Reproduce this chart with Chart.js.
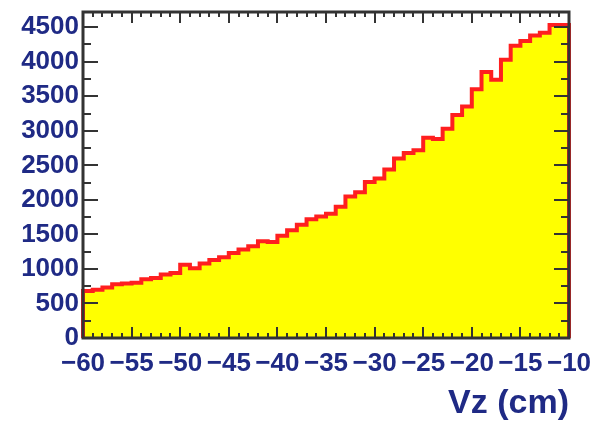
<!DOCTYPE html>
<html>
<head>
<meta charset="utf-8">
<script src="https://cdn.jsdelivr.net/npm/chart.js@4.4.1/dist/chart.umd.min.js"></script>
<style>
  html, body { margin: 0; padding: 0; background: #ffffff; }
  #wrap { width: 593px; height: 421px; position: relative; }
</style>
</head>
<body>
<div id="wrap"><canvas id="c" width="593" height="421"></canvas></div>
<script>
// Vertex z distribution, 1 cm bins (lower bin edge in cm)
const vzBinStart = [-60, -59, -58, -57, -56, -55, -54, -53, -52, -51,
                    -50, -49, -48, -47, -46, -45, -44, -43, -42, -41,
                    -40, -39, -38, -37, -36, -35, -34, -33, -32, -31,
                    -30, -29, -28, -27, -26, -25, -24, -23, -22, -21,
                    -20, -19, -18, -17, -16, -15, -14, -13, -12, -11];
const counts = [650, 680, 700, 730, 780, 790, 800, 850, 870, 920,
                940, 1060, 1010, 1080, 1130, 1170, 1230, 1280, 1330, 1400,
                1390, 1480, 1560, 1640, 1720, 1760, 1800, 1900, 2050, 2110,
                2260, 2310, 2440, 2600, 2680, 2720, 2900, 2880, 3030, 3230,
                3350, 3600, 3850, 3740, 4030, 4230, 4300, 4380, 4420, 4530];
const xTickValues = [-60, -55, -50, -45, -40, -35, -30, -25, -20, -15, -10];
const yTickValues = [0, 500, 1000, 1500, 2000, 2500, 3000, 3500, 4000, 4500];
const xRange = [-60, -10];
const yRange = [0, 4720];

const labelColor = '#1f2a85';
const frameColor = '#333333';

// histogram outline: rise from zero at the first edge, steps, drop to zero at the last edge
const points = [{ x: vzBinStart[0], y: 0 }];
vzBinStart.forEach((x, i) => points.push({ x: x, y: counts[i] }));
points.push({ x: xRange[1], y: counts[counts.length - 1] });
points.push({ x: xRange[1], y: 0 });

const fmtMinus = v => (v < 0 ? '\u2212' + Math.abs(v) : String(v));

// frame with inward major/minor ticks on all four sides
const framePlugin = {
  id: 'frameTicks',
  afterDatasetsDraw(chart) {
    const { ctx, chartArea: a, scales: { x, y } } = chart;
    ctx.save();
    ctx.strokeStyle = frameColor;
    ctx.lineWidth = 2;
    ctx.beginPath();
    for (let v = xRange[0]; v <= xRange[1]; v += 1) {
      const px = Math.round(x.getPixelForValue(v));
      const major = v % 5 === 0;
      ctx.moveTo(px, a.bottom); ctx.lineTo(px, a.bottom - (major ? 11 : 5));
      ctx.moveTo(px, a.top); ctx.lineTo(px, a.top + (major ? 11 : 5));
    }
    for (let v = yRange[0]; v <= 4500; v += 250) {
      const py = Math.round(y.getPixelForValue(v));
      const major = v % 500 === 0;
      ctx.moveTo(a.left, py); ctx.lineTo(a.left + (major ? 15 : 8), py);
      ctx.moveTo(a.right, py); ctx.lineTo(a.right - (major ? 15 : 8), py);
    }
    ctx.stroke();
    ctx.lineWidth = 3;
    ctx.strokeRect(a.left, a.top, a.right - a.left, a.bottom - a.top);
    ctx.restore();
  }
};

new Chart(document.getElementById('c'), {
  type: 'line',
  data: {
    datasets: [{
      data: points,
      stepped: 'after',
      borderColor: '#ff1f1f',
      borderWidth: 4,
      backgroundColor: '#ffff00',
      fill: 'origin',
      pointRadius: 0,
      tension: 0,
      clip: false
    }]
  },
  options: {
    responsive: false,
    animation: false,
    events: [],
    layout: { padding: { left: 0, right: 24, top: 12, bottom: 0 } },
    plugins: { legend: { display: false }, tooltip: { enabled: false } },
    scales: {
      x: {
        type: 'linear',
        min: xRange[0],
        max: xRange[1],
        grid: { display: false, drawTicks: false },
        border: { display: false },
        afterBuildTicks: s => { s.ticks = xTickValues.map(v => ({ value: v })); },
        afterFit: s => { s.height = 83; s.paddingLeft = 0; s.paddingRight = 0; },
        ticks: {
          color: labelColor,
          padding: 10,
          maxRotation: 0,
          autoSkip: false,
          font: { family: 'Liberation Sans, Arial, sans-serif', size: 26, weight: 'bold' },
          callback: v => fmtMinus(v)
        },
        title: {
          display: true,
          text: 'Vz (cm)',
          align: 'end',
          color: labelColor,
          padding: { top: 0, bottom: 0 },
          font: { family: 'Liberation Sans, Arial, sans-serif', size: 34, weight: 'bold', lineHeight: 1 }
        }
      },
      y: {
        type: 'linear',
        min: yRange[0],
        max: yRange[1],
        grid: { display: false, drawTicks: false },
        border: { display: false },
        afterBuildTicks: s => { s.ticks = yTickValues.map(v => ({ value: v })); },
        afterFit: s => { s.width = 83; s.paddingTop = 0; s.paddingBottom = 0; },
        ticks: {
          color: labelColor,
          padding: 4,
          autoSkip: false,
          font: { family: 'Liberation Sans, Arial, sans-serif', size: 26, weight: 'bold' },
          callback: v => String(v)
        }
      }
    }
  },
  plugins: [framePlugin]
});
</script>
</body>
</html>
